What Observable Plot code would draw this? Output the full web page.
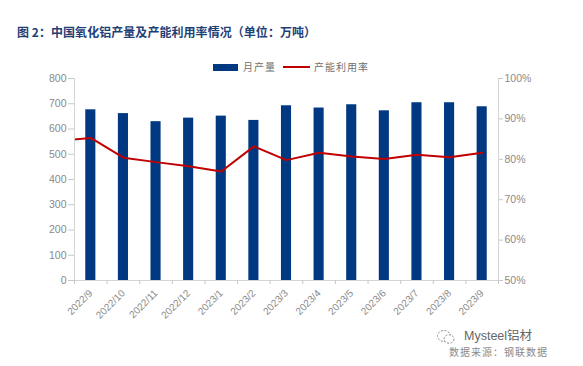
<!DOCTYPE html>
<html><head><meta charset="utf-8">
<script src="https://cdn.jsdelivr.net/npm/d3@7"></script>
<script src="https://cdn.jsdelivr.net/npm/@observablehq/plot@0.6"></script>
<style>
body{margin:0;background:#fff;width:583px;height:366px;overflow:hidden;position:relative;font-family:"Liberation Sans","Noto Sans CJK SC",sans-serif}
.abs{position:absolute;white-space:nowrap;line-height:1}
#title{left:17px;top:26px;font-family:"Noto Sans CJK SC";font-weight:bold;font-size:12px;letter-spacing:0.05px;color:#1f3f77}
.leg{font-family:"Noto Sans CJK SC";font-size:10px;color:#707070;letter-spacing:1px}
#chart{position:absolute;left:0;top:50px}
</style></head><body>
<div id="title" class="abs">图 2：中国氧化铝产量及产能利用率情况（单位：万吨）</div>
<div class="abs" style="left:213px;top:64px;width:25px;height:7px;background:#003882"></div>
<div class="abs leg" style="left:243px;top:62px">月产量</div>
<div class="abs" style="left:283px;top:66px;width:27px;height:2px;background:#c00000"></div>
<div class="abs leg" style="left:314px;top:62px">产能利用率</div>
<div id="chart"></div>
<svg class="abs" style="left:436px;top:328px" width="20" height="18"><ellipse cx="8" cy="8" rx="6.5" ry="5.5" fill="none" stroke="#888" stroke-width="1" stroke-dasharray="2 1.5"/><ellipse cx="13" cy="11" rx="5" ry="4.2" fill="#fff" stroke="#888" stroke-width="1" stroke-dasharray="2 1.5"/></svg>
<div class="abs" style="left:464px;top:330px;font-size:12.5px;color:#666">Mysteel铝材</div>
<div class="abs" style="left:449px;top:347px;font-family:'Noto Sans CJK SC';font-size:10px;color:#8a8a8a;letter-spacing:1px">数据来源：钢联数据</div>
<script>
const months = ["2022/9","2022/10","2022/11","2022/12","2023/1","2023/2","2023/3","2023/4","2023/5","2023/6","2023/7","2023/8","2023/9"];
const output = [676,661,629,643,651,634,692,683,696,672,704,704,688];
const utilization = [85.3,80.4,79.3,78.3,77.0,83.2,79.8,81.6,80.7,80.1,81.1,80.5,81.6];
// value of the prior month (2022/8), only its stub is visible at the left edge
const priorUtilization = 84.5;
const leftTicks = [0,100,200,300,400,500,600,700,800];
const rightTicks = [50,60,70,80,90,100];

const toLeft = p => (p - 50) * 16;
const bars = months.map((m, i) => ({i, m, v: output[i]}));
const line = [{i: -1, p: priorUtilization}, ...months.map((m, i) => ({i, p: utilization[i]}))];
const half = 0.155;

const plot = Plot.plot({
  width: 583, height: 280,
  marginLeft: 74, marginRight: 85, marginTop: 28, marginBottom: 50,
  style: {fontFamily: "Liberation Sans, sans-serif", fontSize: "10px", color: "#888", background: "transparent"},
  x: {type: "linear", domain: [-0.5, 12.5], axis: null},
  y: {domain: [0, 800], axis: null},
  marks: [
    Plot.rectY(bars, {x1: d => d.i - half, x2: d => d.i + half, y: "v", fill: "#003882"}),
    Plot.line(line, {x: "i", y: d => toLeft(d.p), stroke: "#c00000", strokeWidth: 2, clip: true}),
    Plot.ruleY([0], {stroke: "#d4d4d4"}),
    Plot.ruleX([-0.5], {stroke: "#d4d4d4"}),
    Plot.ruleX([12.5], {stroke: "#d4d4d4"}),
    Plot.axisY({ticks: leftTicks, tickSize: 6, tickPadding: 2, stroke: "#c8c8c8", fill: "#8a8a8a", fontSize: 10.5, label: null}),
    Plot.axisY({anchor: "right", ticks: rightTicks.map(toLeft), tickFormat: d => (d / 16 + 50) + "%", tickSize: 4, tickPadding: 2, stroke: "#c8c8c8", fill: "#8a8a8a", fontSize: 10.5, label: null}),
    Plot.axisX({ticks: d3.range(-0.5, 13, 1), tickSize: 4, tickFormat: () => "", stroke: "#c8c8c8", label: null}),
    Plot.axisX({ticks: d3.range(0, 13), tickSize: 0, tickPadding: 11, tickRotate: -45, tickFormat: i => months[i], fill: "#8a8a8a", fontSize: 10, label: null})
  ]
});
document.getElementById("chart").appendChild(plot);
</script>
</body></html>
